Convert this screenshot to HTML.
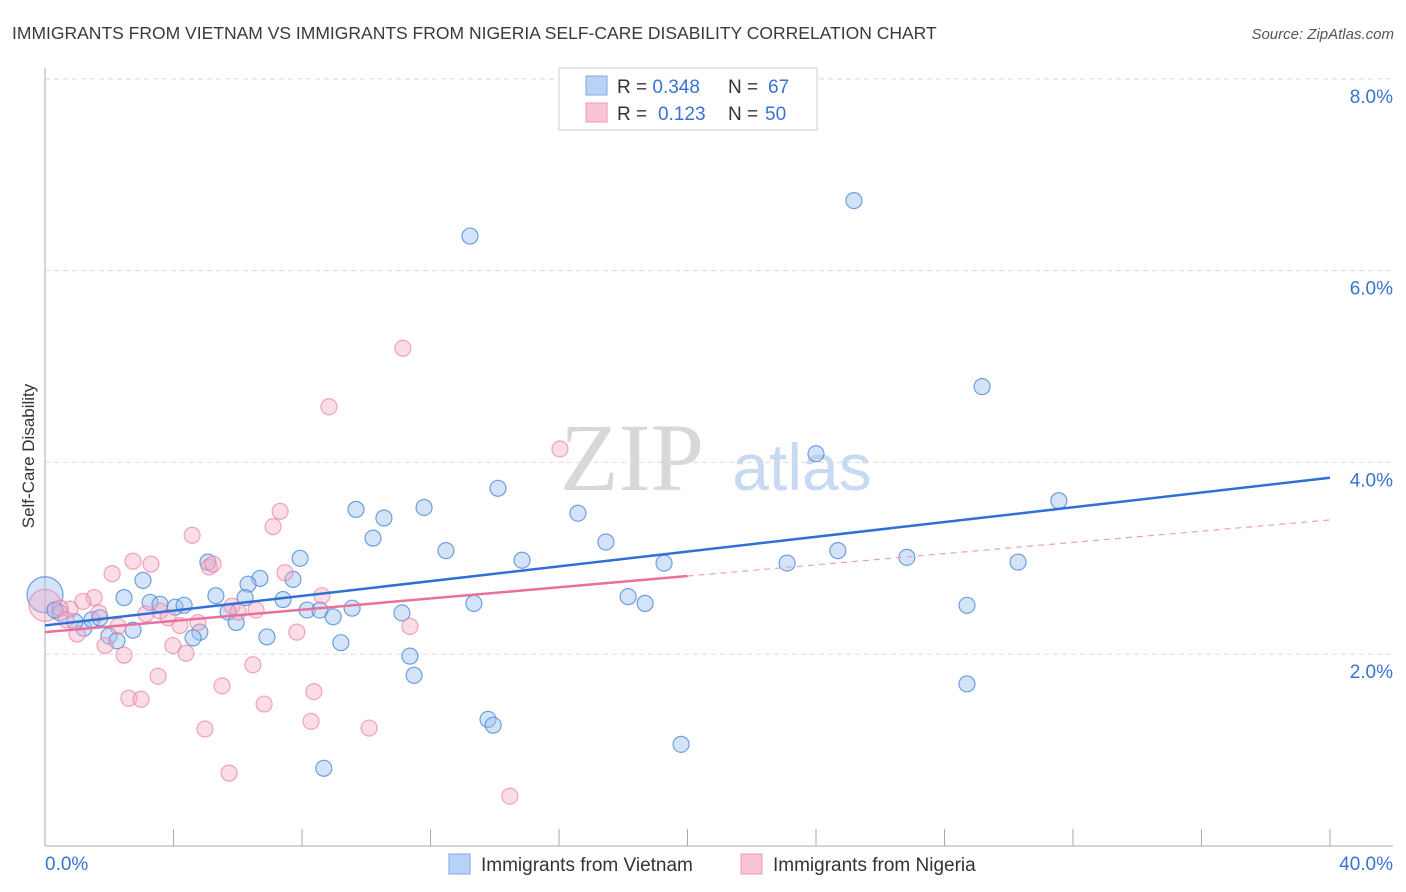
<!DOCTYPE html>
<html><head><meta charset="utf-8"><style>
body{margin:0;background:#fff;font-family:"Liberation Sans",sans-serif}
svg{display:block}
</style></head><body>
<svg id="chart" width="1406" height="892" xmlns="http://www.w3.org/2000/svg">
<text x="12" y="39" font-size="17.5" fill="#3a3a3a">IMMIGRANTS FROM VIETNAM VS IMMIGRANTS FROM NIGERIA SELF-CARE DISABILITY CORRELATION CHART</text>
<text x="1394" y="39" font-size="15" fill="#555" font-style="italic" text-anchor="end">Source: ZipAtlas.com</text>
<text transform="translate(34,456) rotate(-90)" font-size="17" fill="#333" text-anchor="middle">Self-Care Disability</text>
<g>
<text x="632" y="490" font-family="Liberation Serif,serif" font-size="96" fill="#d8d8d8" text-anchor="middle">ZIP</text>
<text x="802" y="490" font-size="66" fill="#c8daf2" text-anchor="middle">atlas</text>
</g>
<g id="grid"></g><g id="axes"></g><g id="marks"></g><g id="lines"></g>
<g>
<rect x="559" y="68" width="258" height="62" fill="#fff" stroke="#ccc"/>
<rect x="586" y="76" width="21" height="19" fill="#b8d2f4" stroke="#7eaae4"/>
<rect x="586" y="103" width="21" height="19" fill="#f9c4d4" stroke="#ef9ab6"/>
<text x="617" y="93" font-size="19" fill="#333">R = <tspan fill="#3a72d0">0.348</tspan><tspan x="728">N = </tspan><tspan x="768" fill="#3a72d0">67</tspan></text>
<text x="617" y="120" font-size="19" fill="#333">R = <tspan x="658" fill="#3a72d0">0.123</tspan><tspan x="728">N = </tspan><tspan x="765" fill="#3a72d0">50</tspan></text>
</g>
<g>
<rect x="449" y="854" width="21" height="20" fill="#b8d2f4" stroke="#7eaae4"/>
<text x="481" y="871" font-size="19" fill="#333">Immigrants from Vietnam</text>
<rect x="741" y="854" width="21" height="20" fill="#f9c4d4" stroke="#ef9ab6"/>
<text x="773" y="871" font-size="19" fill="#333">Immigrants from Nigeria</text>
</g>
</svg>
<script>
const yTicks=[2,4,6,8];
const yTickLabels=["2.0%","4.0%","6.0%","8.0%"];
const xTickLabels=["0.0%","40.0%"];
const blueX=[13.23,25.18,29.17,24.0,31.56,14.10,11.80,9.68,10.55,10.21,16.59,12.48,14.85,17.46,19.27,24.68,26.83,23.10,30.29,7.94,5.07,7.72,6.69,6.32,3.05,2.46,3.27,3.58,4.05,4.33,5.32,6.23,7.41,5.70,8.16,8.56,8.97,9.56,11.11,13.35,18.15,18.68,28.70,5.95,6.91,4.82,4.61,2.74,1.99,2.24,1.21,0.93,1.46,0.47,0.31,1.71,9.21,11.36,11.49,13.79,13.95,19.80,8.68,28.70];
const blueY=[6.36,6.73,4.79,4.09,3.60,3.73,3.53,3.51,3.42,3.21,3.47,3.08,2.98,3.17,2.95,3.08,3.01,2.95,2.96,3.00,2.96,2.78,2.79,2.73,2.77,2.59,2.54,2.52,2.49,2.51,2.61,2.59,2.57,2.44,2.46,2.46,2.39,2.48,2.43,2.53,2.60,2.53,2.51,2.33,2.18,2.23,2.17,2.25,2.19,2.14,2.27,2.34,2.36,2.43,2.46,2.38,2.12,1.98,1.78,1.32,1.26,1.06,0.81,1.69];
const pinkX=[11.14,8.84,16.03,7.32,7.10,4.58,2.74,3.30,5.11,5.23,2.09,7.47,8.62,1.53,1.18,0.78,1.68,0.47,3.14,3.58,3.83,5.82,6.57,6.01,4.20,4.76,2.27,0.65,1.00,1.87,2.46,3.98,4.39,7.84,11.36,6.47,3.52,5.51,2.61,2.99,8.37,6.82,4.98,8.28,10.09,5.73,14.47];
const pinkY=[5.19,4.58,4.14,3.49,3.33,3.24,2.97,2.94,2.91,2.94,2.84,2.85,2.61,2.59,2.55,2.47,2.43,2.48,2.42,2.45,2.38,2.50,2.46,2.44,2.30,2.33,2.29,2.36,2.21,2.09,1.99,2.09,2.01,2.23,2.29,1.89,1.77,1.67,1.54,1.53,1.61,1.48,1.22,1.30,1.23,0.76,0.52];
const bigBlue=[0,2.62], bigPink=[0,2.51];
const blueTrend=[2.30,3.84];
const pinkTrend=[2.23,3.40];
const pinkSolidEnd=20;
const X0=45,XW=1285/40,Y0=846,YH=95.9;
const sx=v=>X0+v*XW, sy=v=>Y0-v*YH;
const NS="http://www.w3.org/2000/svg";
function mk(parent,tag,at){const e=document.createElementNS(NS,tag);for(const k in at)e.setAttribute(k,at[k]);document.getElementById(parent).appendChild(e);return e;}
yTicks.forEach((t,i)=>{
 const l=mk('grid','line',{x1:45,x2:1393,y1:sy(t),y2:sy(t),stroke:'#dcdcdc','stroke-dasharray':'5,4'});
 
 
 const tx=mk('axes','text',{x:1393,y:sy(t)+24,'font-size':19,fill:'#3a72d0','text-anchor':'end'});
 tx.textContent=yTickLabels[i];
 
 
});
const topL=mk('grid','line',{x1:45,x2:1393,y1:79,y2:79,stroke:'#dcdcdc','stroke-dasharray':'5,4'});


const ya=mk('axes','line',{x1:45,x2:45,y1:68,y2:846,stroke:'#aaa'});


const xa=mk('axes','line',{x1:45,x2:1393,y1:846,y2:846,stroke:'#aaa'});


for(let i=0;i<=40;i+=4){
 const t=mk('axes','line',{x1:sx(i),x2:sx(i),y1:829,y2:846,stroke:'#aaa'});
 
 
}
const xl0=mk('axes','text',{x:45,y:870,'font-size':19,fill:'#3a72d0'});xl0.textContent=xTickLabels[0];


const xl1=mk('axes','text',{x:1393,y:870,'font-size':19,fill:'#3a72d0','text-anchor':'end'});xl1.textContent=xTickLabels[1];


function dot(x,y,r,c){
 const e=mk('marks','circle',{cx:sx(x),cy:sy(y),r:r,fill:c==='b'?'rgba(160,196,240,0.45)':'rgba(244,170,195,0.4)',stroke:c==='b'?'rgba(70,130,215,0.75)':'rgba(232,120,160,0.65)','stroke-width':1.2});
 
 
}
dot(bigBlue[0],bigBlue[1],18,'b');dot(bigPink[0],bigPink[1],16,'p');
blueX.forEach((x,i)=>dot(x,blueY[i],8,'b'));
pinkX.forEach((x,i)=>dot(x,pinkY[i],8,'p'));
const bl=mk('lines','line',{x1:sx(0),y1:sy(blueTrend[0]),x2:sx(40),y2:sy(blueTrend[1]),stroke:'#2f6fd6','stroke-width':2.5});


const pm=pinkTrend[0]+(pinkTrend[1]-pinkTrend[0])*pinkSolidEnd/40;
const pl=mk('lines','line',{x1:sx(0),y1:sy(pinkTrend[0]),x2:sx(pinkSolidEnd),y2:sy(pm),stroke:'#e8709a','stroke-width':2.5});


const pd=mk('lines','line',{x1:sx(pinkSolidEnd),y1:sy(pm),x2:sx(40),y2:sy(pinkTrend[1]),stroke:'#eba0b8','stroke-width':1.2,'stroke-dasharray':'6,5'});


</script>
</body></html>
